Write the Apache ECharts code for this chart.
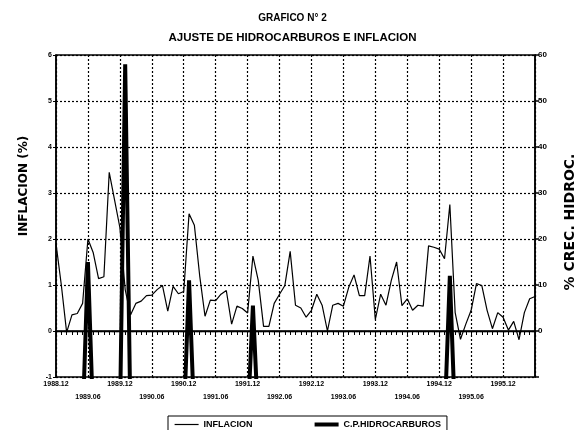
<!DOCTYPE html>
<html>
<head>
<meta charset="utf-8">
<script src="https://cdn.jsdelivr.net/npm/echarts@6/dist/echarts.min.js"></script>
<style>
html, body { margin: 0; padding: 0; background: #fff; }
#main { width: 585px; height: 430px; }
</style>
</head>
<body>
<div id="main"></div>
<script>
// meses: 1988.12 ... 1996.06
let meses = [];
for (let i = 0; i <= 90; i++) {
	let t = 11 + i;
	let anio = 1988 + Math.floor(t / 12);
	let mes = t % 12 + 1;
	meses.push(anio + '.' + (mes < 10 ? '0' + mes : mes));
}

// inflacion mensual (%), eje izquierdo
let inflacion = [
	1.9, 1.0, -0.03, 0.35, 0.38, 0.6, 2.0, 1.7, 1.14, 1.18,
	3.45, 2.85, 2.25, 0.9, 0.35, 0.6, 0.65, 0.77, 0.78, 0.9,
	0.99, 0.43, 0.97, 0.81, 0.86, 2.55, 2.3, 1.2, 0.32, 0.67,
	0.66, 0.8, 0.88, 0.15, 0.54, 0.49, 0.39, 1.63, 1.1, 0.1,
	0.1, 0.6, 0.8, 0.99, 1.73, 0.56, 0.5, 0.3, 0.45, 0.8,
	0.56, 0.0, 0.56, 0.6, 0.54, 0.95, 1.22, 0.77, 0.77, 1.63,
	0.25, 0.8, 0.56, 1.1, 1.5, 0.55, 0.7, 0.45, 0.56, 0.54,
	1.85, 1.82, 1.78, 1.57, 2.75, 0.4, -0.18, 0.15, 0.45, 1.03,
	0.99, 0.45, 0.05, 0.4, 0.3, 0.02, 0.21, -0.19, 0.4, 0.7,
	0.75
];

// crecimiento precios hidrocarburos (%), eje derecho (fuera de escala salvo ajustes)
let hidrocarburos = [
	-20, -20, -20, -20, -20, -20, 15, -20, -20, -20,
	-20, -20, -20, 58, -20, -20, -20, -20, -20, -20,
	-20, -20, -20, -20, -20, 11, -20, -20, -20, -20,
	-20, -20, -20, -20, -20, -20, -20, 5.5, -20, -20,
	-20, -20, -20, -20, -20, -20, -20, -20, -20, -20,
	-20, -20, -20, -20, -20, -20, -20, -20, -20, -20,
	-20, -20, -20, -20, -20, -20, -20, -20, -20, -20,
	-20, -20, -20, -20, 12, -20, -20, -20, -20, -20,
	-20, -20, -20, -20, -20, -20, -20, -20, -20, -20,
	-20
];

let fuente = 'Liberation Sans';
let myChart = echarts.init(document.getElementById('main'));

let option = {
	animation: false,
	title: [
		{
			text: 'GRAFICO N° 2',
			left: 'center',
			top: 8,
			textStyle: { fontSize: 10, fontWeight: 'bold', fontFamily: fuente, color: '#000' }
		},
		{
			text: 'AJUSTE DE HIDROCARBUROS E INFLACION',
			left: 'center',
			top: 27,
			textStyle: { fontSize: 11.5, fontWeight: 'bold', fontFamily: fuente, color: '#000' }
		}
	],
	legend: {
		left: 168,
		top: 416,
		padding: [4, 6],
		itemWidth: 24,
		itemHeight: 10,
		itemGap: 60,
		borderColor: '#000',
		borderWidth: 1,
		textStyle: { fontSize: 9, fontWeight: 'bold', fontFamily: fuente, color: '#000' },
		data: [
			{ name: 'INFLACION', itemStyle: { opacity: 0 }, lineStyle: { width: 1.2, color: '#000' } },
			{ name: 'C.P.HIDROCARBUROS', itemStyle: { opacity: 0 }, lineStyle: { width: 4, color: '#000' } }
		]
	},
	grid: {
		left: 56,
		right: 47,
		top: 55,
		bottom: 53,
		show: true,
		borderColor: '#000',
		borderWidth: 1.5
	},
	xAxis: {
		type: 'category',
		data: meses,
		boundaryGap: false,
		axisLine: { lineStyle: { color: '#000', width: 1.5 } },
		axisTick: { show: true, interval: 0, length: 4, lineStyle: { color: '#000' } },
		axisLabel: {
			interval: 5,
			margin: 1,
			fontSize: 7,
			fontWeight: 'bold',
			fontFamily: fuente,
			color: '#000',
			lineHeight: 13,
			formatter: function (v, i) {
				if (i >= 90) return '';
				if (i % 12 == 0) return v;
				if (i % 12 == 6) return '\n' + v;
				return '';
			}
		},
		splitLine: { show: true, interval: 5, lineStyle: { color: '#000', type: [2, 2], width: 1.2 } }
	},
	yAxis: [
		{
			type: 'value',
			position: 'left',
			min: -1,
			max: 6,
			interval: 1,
			name: 'INFLACION (%)',
			nameLocation: 'middle',
			nameRotate: 90,
			nameGap: 26,
			nameTextStyle: {
				fontSize: 12,
				fontWeight: 'bold',
				fontFamily: 'DejaVu Sans',
				color: '#000',
				padding: [0, 0, 0, 60]
			},
			axisLine: { show: true, lineStyle: { color: '#000', width: 1.5 } },
			axisTick: { show: true, length: 3, lineStyle: { color: '#000' } },
			axisLabel: { fontSize: 7, fontWeight: 'bold', fontFamily: fuente, color: '#000', margin: 4 },
			splitLine: { show: true, lineStyle: { color: '#000', type: [2, 2], width: 1.2 } }
		},
		{
			type: 'value',
			position: 'right',
			min: -10,
			max: 60,
			interval: 10,
			name: '% CREC. HIDROC.',
			nameLocation: 'middle',
			nameRotate: 90,
			nameGap: 28,
			nameTextStyle: {
				fontSize: 14,
				fontWeight: 'bold',
				fontFamily: 'DejaVu Sans',
				color: '#000',
				padding: [0, 12, 0, 0]
			},
			axisLine: { show: true, lineStyle: { color: '#000', width: 1.5 } },
			axisTick: { show: true, length: 4, lineStyle: { color: '#000', width: 1.5 } },
			axisLabel: {
				fontSize: 8,
				fontWeight: 'bold',
				fontFamily: fuente,
				color: '#000',
				margin: 3,
				formatter: function (v) { return v < 0 ? '' : v; }
			},
			splitLine: { show: false }
		}
	],
	series: [
		{
			name: 'INFLACION',
			type: 'line',
			yAxisIndex: 0,
			data: inflacion,
			symbol: 'none',
			lineStyle: { color: '#000', width: 1.2 },
			itemStyle: { color: '#000' },
			markLine: {
				silent: true,
				symbol: 'none',
				label: { show: false },
				lineStyle: { color: '#000', type: 'solid', width: 1.3 },
				data: [{ yAxis: 0 }]
			}
		},
		{
			name: 'C.P.HIDROCARBUROS',
			type: 'line',
			yAxisIndex: 1,
			data: hidrocarburos,
			symbol: 'none',
			clip: true,
			lineStyle: { color: '#000', width: 4 },
			itemStyle: { color: '#000' }
		}
	]
};
myChart.setOption(option);
</script>
</body>
</html>
